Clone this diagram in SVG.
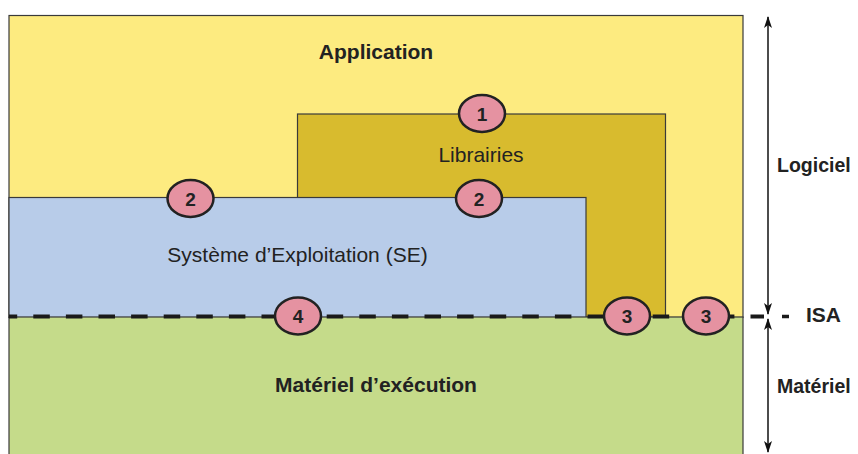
<svg xmlns="http://www.w3.org/2000/svg" width="858" height="454" viewBox="0 0 858 454">
<style>
.box{stroke:#3a3a3a;stroke-width:1.2}
.lbl{font-family:"Liberation Sans",Arial,sans-serif;fill:#222;text-anchor:middle}
.b{font-weight:bold}
.side{font-family:"Liberation Sans",Arial,sans-serif;fill:#222;font-weight:bold}
.num ellipse{fill:#E592A1;stroke:#222;stroke-width:2.5}
.num text{font-family:"Liberation Sans",Arial,sans-serif;font-weight:bold;font-size:19px;fill:#222;text-anchor:middle}
.ax{stroke:#111;stroke-width:1.5;fill:none}
</style>
<defs>
<marker id="ah" viewBox="0 0 12 8" refX="11" refY="4" markerUnits="userSpaceOnUse" markerWidth="12" markerHeight="8" orient="auto-start-reverse">
<path d="M0,0 L12,4 L0,8 L3,4 z" fill="#111"/>
</marker>
</defs>
<rect width="858" height="454" fill="#fff"/>
<g id="application">
<rect class="box" x="9" y="15.5" width="734" height="302" fill="#FDEB80" stroke="#555" stroke-width="1.6"/>
<text class="lbl b" x="376" y="59" font-size="21">Application</text>
</g>
<g id="librairies">
<rect class="box" x="297.5" y="114" width="368" height="203" fill="#D8BB2E"/>
<text class="lbl" x="481" y="162" font-size="21">Librairies</text>
</g>
<g id="se">
<rect class="box" x="9" y="197.5" width="577" height="120" fill="#B8CCE9"/>
<text class="lbl" x="297.5" y="262" font-size="21">Système d’Exploitation (SE)</text>
</g>
<g id="materiel-execution">
<rect class="box" x="9" y="317" width="734" height="140" fill="#C5DB8A"/>
<text class="lbl b" x="376" y="392" font-size="21">Matériel d’exécution</text>
</g>
<g id="connectors">
<line x1="9" y1="316.5" x2="764" y2="316.5" stroke="#1a1a1a" stroke-width="4" stroke-dasharray="16.5 16.1" stroke-dashoffset="8.3"/>
<line x1="782" y1="316.5" x2="789" y2="316.5" stroke="#1a1a1a" stroke-width="3.5"/>
<line class="ax" x1="768" y1="17" x2="768" y2="314" marker-start="url(#ah)" marker-end="url(#ah)"/>
<line class="ax" x1="768" y1="319" x2="768" y2="452" marker-start="url(#ah)" marker-end="url(#ah)"/>
</g>
<g id="n1" class="num"><ellipse cx="482" cy="113.5" rx="23" ry="18.5"/><text x="482" y="120.5">1</text></g>
<g id="n2a" class="num"><ellipse cx="190.5" cy="198.5" rx="23" ry="18.5"/><text x="190.5" y="205.5">2</text></g>
<g id="n2b" class="num"><ellipse cx="479" cy="198.5" rx="23" ry="18.5"/><text x="479" y="205.5">2</text></g>
<g id="n4" class="num"><ellipse cx="298" cy="316" rx="23" ry="18.5"/><text x="298" y="323">4</text></g>
<g id="n3a" class="num"><ellipse cx="627" cy="316" rx="23" ry="18.5"/><text x="627" y="323">3</text></g>
<g id="n3b" class="num"><ellipse cx="706" cy="316" rx="23" ry="18.5"/><text x="706" y="323">3</text></g>
<g id="labels">
<text class="side" x="777" y="172" font-size="19.5">Logiciel</text>
<text class="side" x="806" y="322" font-size="21">ISA</text>
<text class="side" x="777" y="393" font-size="19.5">Matériel</text>
</g>
</svg>
